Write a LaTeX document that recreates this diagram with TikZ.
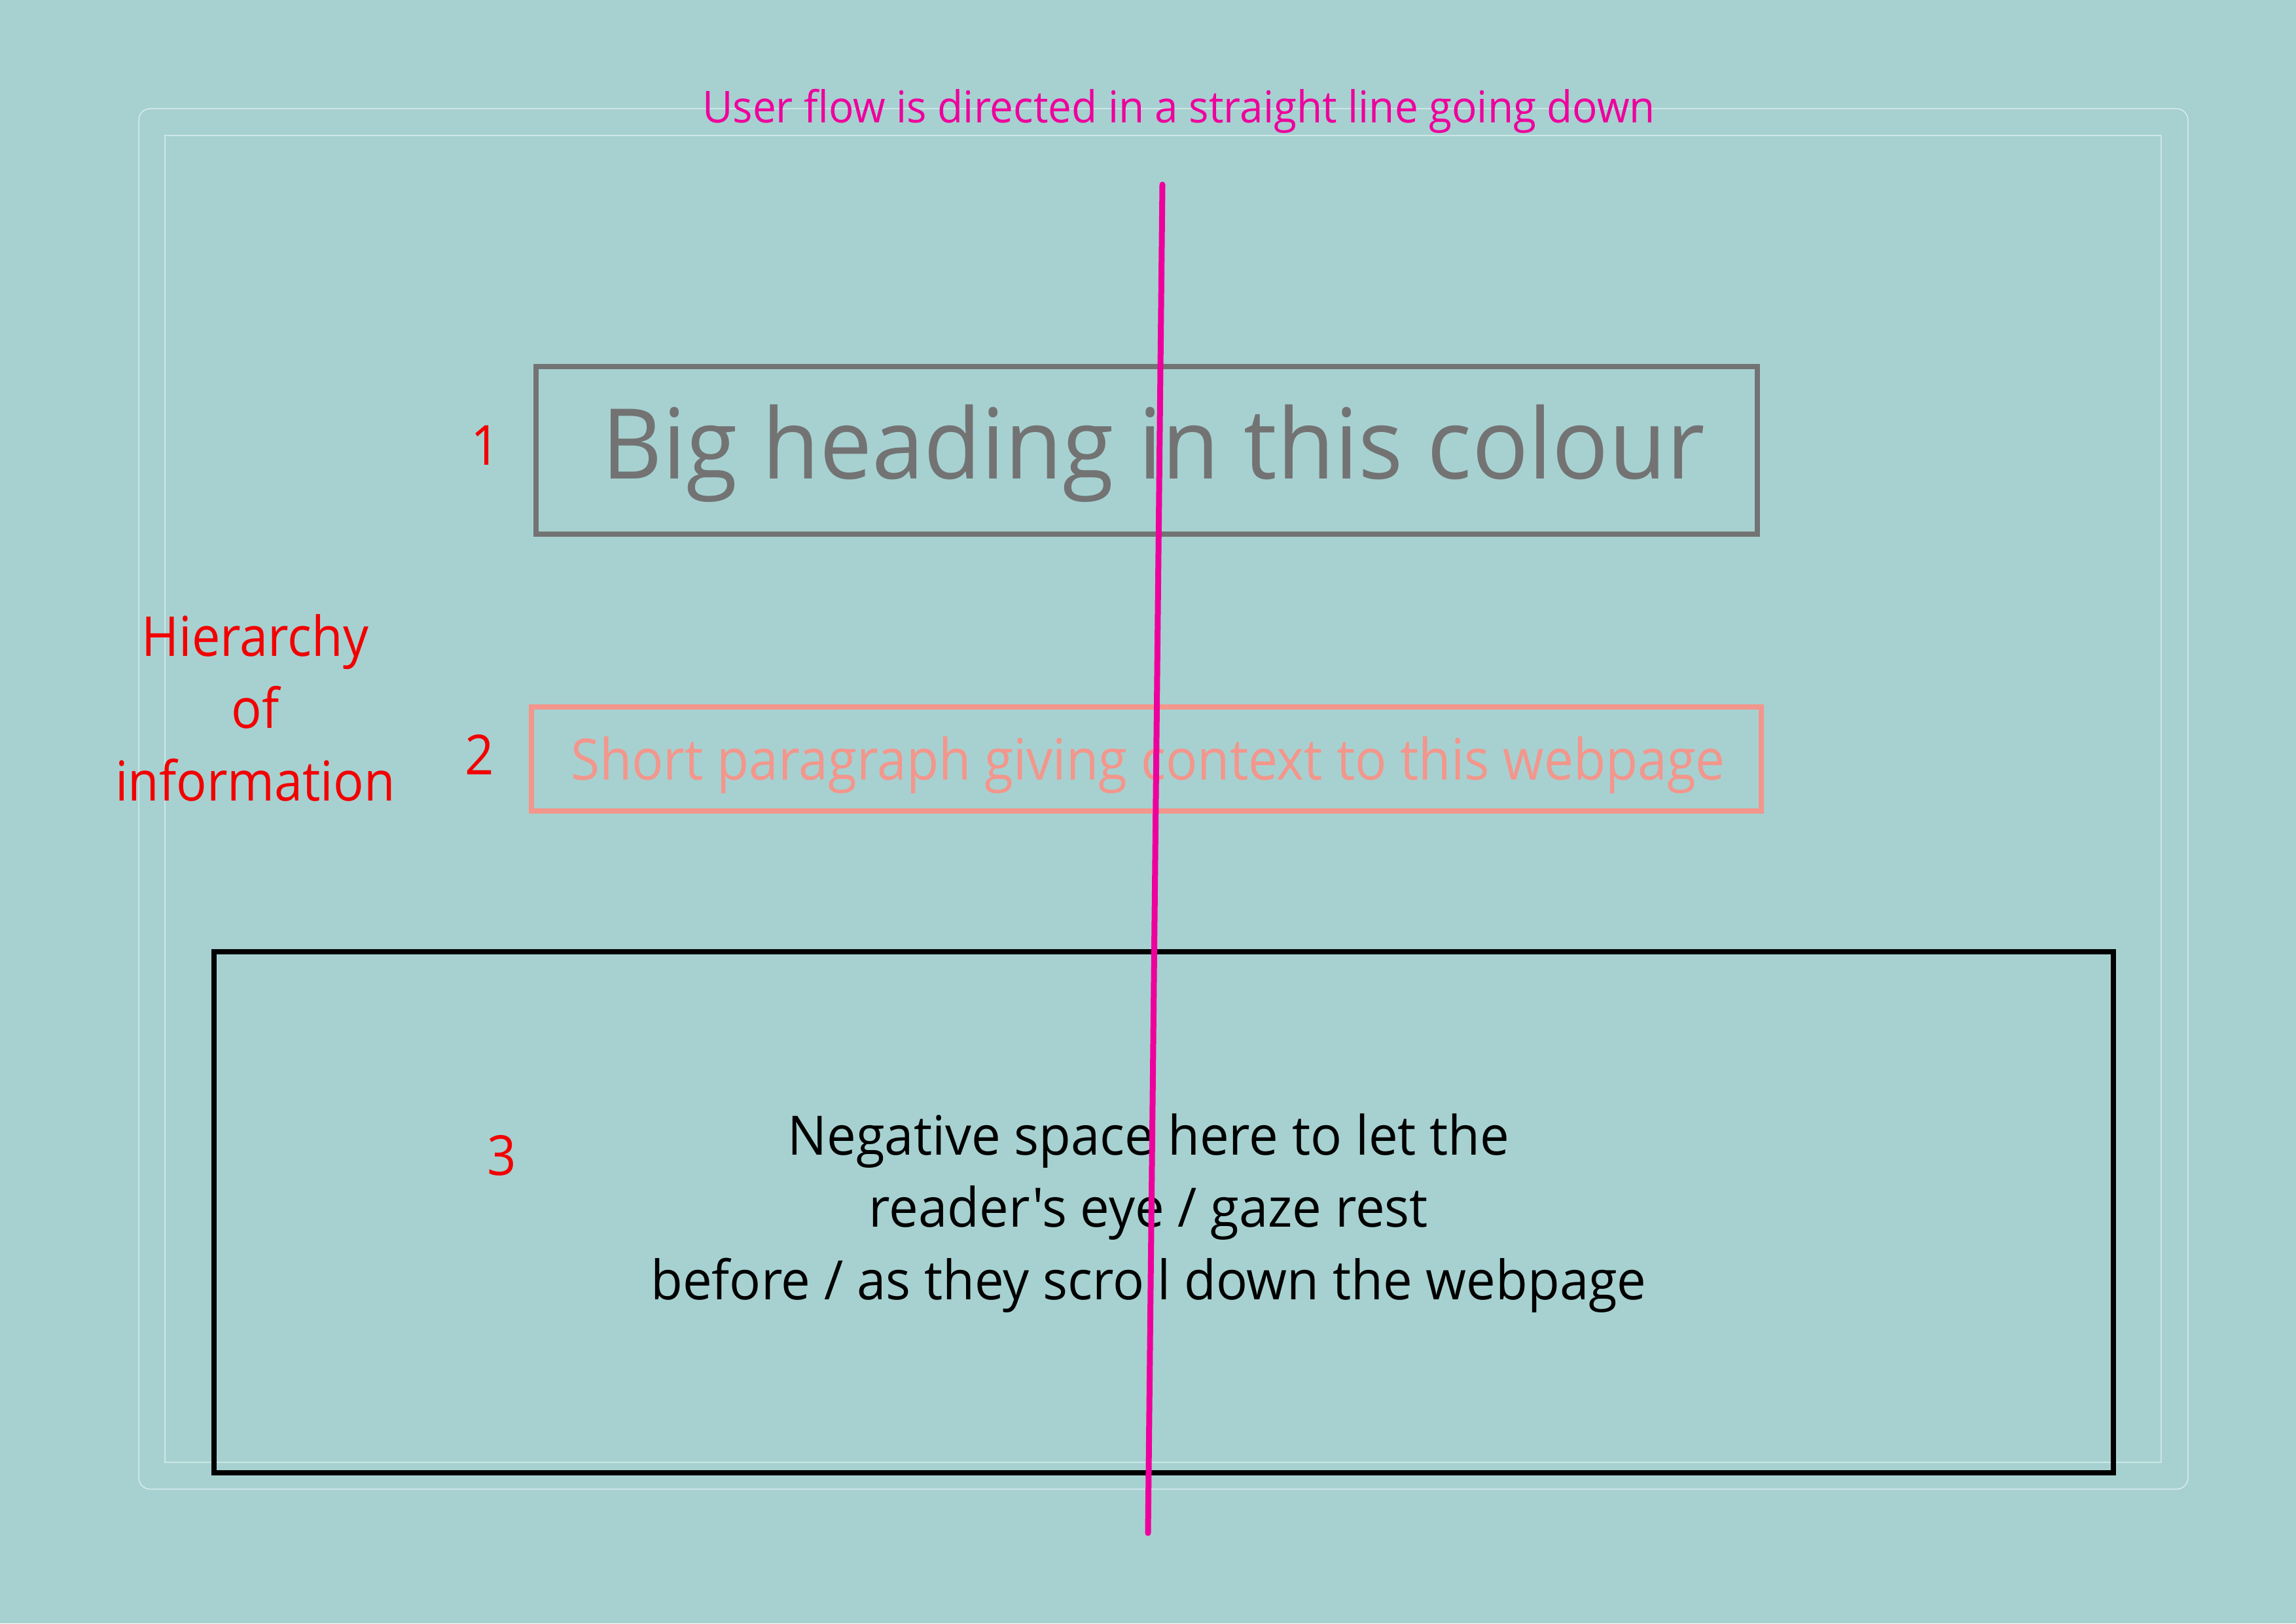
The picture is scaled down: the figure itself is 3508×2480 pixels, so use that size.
\documentclass[tikz,border=0pt]{standalone}
\usepackage{fontspec}
\setmainfont{Open Sans}[FakeStretch=0.92]
\newfontfamily\titlefont{Open Sans}[FakeStretch=0.95]
\newfontfamily\widefont{Open Sans}[FakeStretch=0.96]
\definecolor{bgc}{RGB}{167,209,209}
\definecolor{frameA}{RGB}{225,240,240}
\definecolor{frameB}{RGB}{205,230,230}
\definecolor{flowpink}{RGB}{238,0,156}
\definecolor{headgray}{RGB}{115,115,115}
\definecolor{salmon}{RGB}{243,150,140}
\definecolor{hred}{RGB}{242,0,0}
\tikzset{
  boxline/.style={draw, line width=2.28pt, inner sep=0pt, minimum width=#1},
  txt/.style={inner sep=0pt, anchor=base},
  num/.style={txt, text=hred, font=\fontsize{24}{31.3}\selectfont},
}
\begin{document}
\begin{tikzpicture}[x=0.01cm,y=-0.01cm]
\fill[bgc] (0,0) rectangle (3508,2480);
\useasboundingbox (0,0) rectangle (3508,2480);
% faint frames
\draw[frameA, line width=0.35pt, rounded corners=5pt] (212,166) rectangle (3343,2275);
\draw[frameB, line width=0.35pt] (252,207) rectangle (3302,2234);
% title
\node[txt, text=flowpink, font=\titlefont\fontsize{19.1}{23}\selectfont] (title) at (1801,187) {User flow is directed in a straight line going down};
% boxes
\node[boxline=1866*0.01cm, draw=headgray, minimum height=2.56cm] (box1) at (1752,688) {};
\node[boxline=1879*0.01cm, draw=salmon, minimum height=1.59cm] (box2) at (1751.5,1159.5) {};
\node[boxline=2902*0.01cm, draw=black, minimum height=7.96cm] (box3) at (1778,1852) {};
% texts
\node[txt, text=headgray, font=\widefont\fontsize{42.4}{50}\selectfont] (t1) at (1762,731) {Big heading in this colour};
\node[txt, text=salmon, font=\fontsize{24.8}{30}\selectfont] (t2) at (1754,1191) {Short paragraph giving context to this webpage};
\node[txt, text=black, align=center, font=\widefont\fontsize{23.6}{31.3}\selectfont] (t3) at (1755,1985) {Negative space here to let the\\reader's eye / gaze rest\\before / as they scroll down the webpage};
\node[txt, text=hred, align=center, font=\fontsize{23.9}{31.3}\selectfont] (hier) at (390,1223) {Hierarchy\\of\\information};
\node[num] (n1) at (742,710) {1};
\node[num] (n2) at (733,1183) {2};
\node[num] (n3) at (767,1795) {3};
% user flow line
\coordinate (flowtop) at (1776,282);
\coordinate (flowbot) at (1754,2342);
\draw[flowpink, line width=2.56pt, line cap=round] (flowtop) -- (flowbot);
\end{tikzpicture}
\end{document}
